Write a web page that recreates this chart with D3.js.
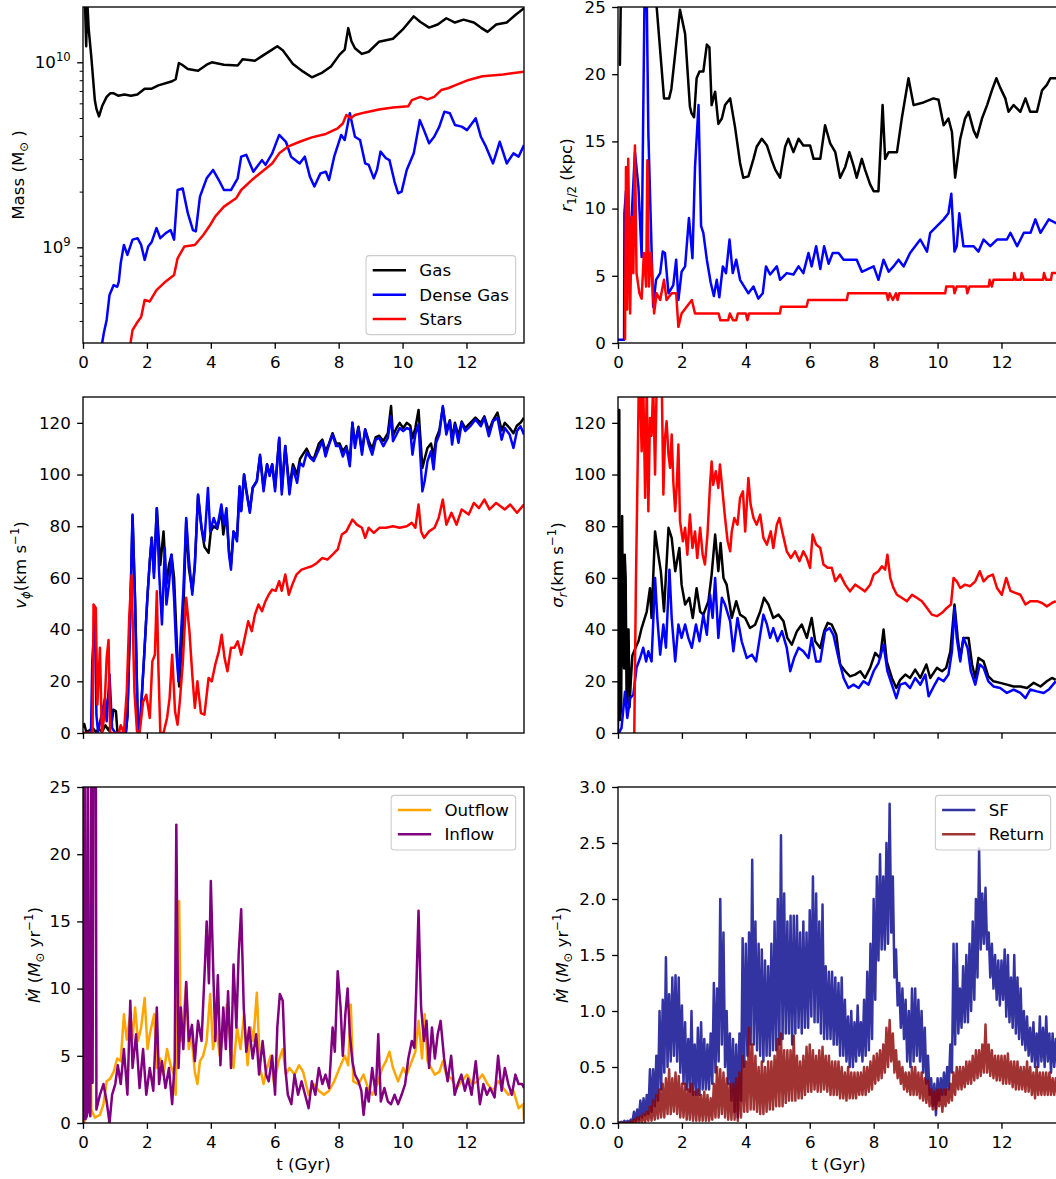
<!DOCTYPE html>
<html><head><meta charset="utf-8">
<script src="https://cdn.jsdelivr.net/npm/d3@7"></script>
<style>
body{margin:0;background:#fff}
svg{display:block;background:#fff}
text{font-family:"DejaVu Sans";fill:#000}
.tick text{font-size:16.67px;font-family:"DejaVu Sans";fill:#000}
.tick line{stroke:#000}
</style></head><body>
<svg id="c" width="1056" height="1179"></svg>
<script>
// ---------------- DATA ----------------
const xTicks = [0, 2, 4, 6, 8, 10, 12];
const massTicks = [1e9, 1e10];
const massMinorTicks = [4e8,5e8,6e8,7e8,8e8,9e8,2e9,3e9,4e9,5e9,6e9,7e9,8e9,9e9];
const rTicks = [0, 5, 10, 15, 20, 25];
const vTicks = [0, 20, 40, 60, 80, 100, 120];
const flowTicks = [0, 5, 10, 15, 20, 25];
const sfTicks = [0, 0.5, 1.0, 1.5, 2.0, 2.5, 3.0];

// Panel 1: mass [t (Gyr), M_sun]
const gasMass = [[0,3.0e10],[0.05,2.5e10],[0.1,1.22e10],[0.13,2.2e10],[0.18,1.5e10],[0.26,1.07e10],[0.37,6.25e9],[0.42,5.6e9],[0.5,5.1e9],[0.6,5.8e9],[0.74,6.5e9],[0.85,6.8e9],[0.96,6.8e9],[1.1,6.6e9],[1.3,6.7e9],[1.5,6.6e9],[1.7,6.7e9],[1.93,7.2e9],[2.15,7.2e9],[2.36,7.5e9],[2.79,7.9e9],[2.9,8.1e9],[3.0,9.9e9],[3.1,9.7e9],[3.28,9.2e9],[3.6,9.0e9],[3.87,9.7e9],[4.03,1.0e10],[4.41,9.7e9],[4.84,9.6e9],[5.0,1.04e10],[5.38,1.02e10],[5.6,1.08e10],[5.92,1.17e10],[6.08,1.22e10],[6.25,1.16e10],[6.57,9.8e9],[6.89,8.9e9],[7.16,8.3e9],[7.49,8.8e9],[7.76,9.5e9],[8.03,1.1e10],[8.19,1.17e10],[8.3,1.53e10],[8.4,1.3e10],[8.51,1.19e10],[8.73,1.11e10],[8.94,1.14e10],[9.26,1.29e10],[9.7,1.34e10],[10.0,1.5e10],[10.35,1.77e10],[10.56,1.65e10],[10.83,1.54e10],[11.1,1.6e10],[11.37,1.73e10],[11.64,1.64e10],[11.91,1.7e10],[12.23,1.64e10],[12.45,1.54e10],[12.66,1.46e10],[12.93,1.6e10],[13.26,1.64e10],[13.53,1.8e10],[13.8,1.96e10]];
const denseMass = [[0.58,2.9e8],[0.65,3.43e8],[0.74,4.05e8],[0.83,5.53e8],[0.96,6.25e8],[1.07,6.12e8],[1.12,6.52e8],[1.18,8.2e8],[1.28,1.03e9],[1.39,9.1e8],[1.55,1.1e9],[1.71,1.12e9],[1.82,1.03e9],[1.93,8.55e8],[2.04,1.01e9],[2.15,1.07e9],[2.3,1.27e9],[2.42,1.12e9],[2.58,1.19e9],[2.74,1.24e9],[2.85,1.1e9],[2.96,2.04e9],[3.12,2.08e9],[3.28,1.53e9],[3.44,1.24e9],[3.53,1.22e9],[3.66,1.88e9],[3.87,2.36e9],[4.07,2.62e9],[4.25,2.31e9],[4.41,2.04e9],[4.63,2.04e9],[4.84,2.36e9],[4.95,3.09e9],[5.11,3.16e9],[5.33,2.56e9],[5.6,2.96e9],[5.71,2.79e9],[5.92,3.22e9],[6.14,4.05e9],[6.35,3.72e9],[6.51,3.09e9],[6.78,2.84e9],[6.94,3.09e9],[7.1,2.41e9],[7.24,2.13e9],[7.43,2.51e9],[7.6,2.56e9],[7.7,2.31e9],[7.86,3.09e9],[8.08,4.05e9],[8.19,3.8e9],[8.35,5.3e9],[8.51,3.96e9],[8.67,3.8e9],[8.83,2.84e9],[8.94,2.79e9],[9.1,2.36e9],[9.2,2.62e9],[9.31,3.29e9],[9.48,3.03e9],[9.59,2.96e9],[9.75,2.26e9],[9.86,1.96e9],[9.97,2.0e9],[10.13,2.62e9],[10.35,3.22e9],[10.54,4.87e9],[10.67,4.3e9],[10.83,3.65e9],[10.99,3.96e9],[11.15,4.49e9],[11.31,5.41e9],[11.48,5.3e9],[11.64,4.58e9],[11.85,4.49e9],[12.02,4.3e9],[12.29,4.98e9],[12.45,3.96e9],[12.61,3.5e9],[12.83,2.84e9],[12.93,3.22e9],[13.04,3.72e9],[13.26,2.84e9],[13.47,3.22e9],[13.63,3.09e9],[13.8,3.57e9]];
const starMass = [[1.47,2.9e8],[1.55,3.57e8],[1.71,3.96e8],[1.82,4.2e8],[1.93,5.19e8],[2.09,5.1e8],[2.3,5.87e8],[2.58,6.52e8],[2.85,7.08e8],[2.96,8.72e8],[3.17,1.01e9],[3.5,1.03e9],[3.77,1.17e9],[3.98,1.32e9],[4.14,1.47e9],[4.41,1.66e9],[4.79,1.84e9],[4.95,2.04e9],[5.28,2.31e9],[5.6,2.56e9],[5.92,2.84e9],[6.14,3.22e9],[6.41,3.5e9],[6.78,3.72e9],[7.16,3.93e9],[7.6,4.1e9],[7.97,4.4e9],[8.13,4.67e9],[8.24,5.19e9],[8.38,4.98e9],[8.51,5.19e9],[8.83,5.36e9],[9.26,5.56e9],[9.7,5.7e9],[10.18,5.79e9],[10.29,6.25e9],[10.56,6.5e9],[10.78,6.3e9],[10.99,6.5e9],[11.21,7.08e9],[11.42,7.24e9],[11.64,7.5e9],[12.07,8.03e9],[12.5,8.4e9],[13.15,8.6e9],[13.8,8.9e9]];

// Panel 2: half-mass radius [t, kpc]
const gasR = [[0.03,20.7],[0.06,20.7],[0.09,26],[0.5,30],[1.0,30],[1.21,25],[1.44,18.2],[1.6,18.2],[1.67,18.9],[1.94,24.8],[2.1,23.0],[2.25,17.6],[2.3,17.1],[2.38,16.8],[2.46,19.7],[2.55,20.2],[2.67,20.2],[2.78,22.2],[2.86,22.0],[2.93,17.7],[3.04,18.7],[3.14,16.3],[3.25,16.7],[3.35,17.7],[3.51,18.2],[3.66,16.1],[3.82,13.4],[3.92,12.3],[4.08,12.4],[4.24,13.7],[4.34,14.6],[4.5,15.2],[4.66,14.7],[4.81,13.6],[4.92,12.9],[5.07,12.3],[5.23,14.6],[5.33,15.2],[5.49,14.2],[5.65,15.2],[5.8,14.7],[6.01,14.7],[6.12,13.7],[6.33,13.7],[6.48,16.2],[6.64,14.85],[6.8,14.2],[6.95,12.3],[7.11,13.1],[7.24,14.2],[7.37,13.2],[7.47,12.3],[7.63,13.7],[7.73,12.9],[7.89,11.8],[8.0,11.3],[8.15,11.3],[8.28,17.7],[8.36,13.7],[8.47,14.2],[8.73,14.2],[8.88,16.7],[9.09,19.7],[9.25,17.7],[9.56,17.9],[9.87,18.2],[10.03,18.1],[10.19,16.2],[10.34,16.7],[10.45,15.7],[10.55,12.3],[10.71,15.2],[10.86,16.7],[10.97,17.2],[11.13,15.8],[11.23,15.3],[11.39,16.7],[11.55,17.7],[11.7,18.8],[11.84,19.7],[11.96,19.0],[12.12,18.2],[12.22,17.2],[12.38,17.7],[12.59,17.2],[12.75,18.2],[12.9,17.2],[13.11,17.2],[13.27,18.8],[13.42,19.2],[13.53,19.7],[13.8,19.7]];
const denseR = [[0,0.25],[0.19,0.25],[0.2,9.65],[0.25,11.3],[0.29,5.2],[0.35,8.2],[0.43,9.5],[0.53,14.2],[0.64,11.6],[0.74,6.4],[0.85,30],[0.88,30],[0.92,21.5],[0.95,15.6],[1.03,8.7],[1.1,2.7],[1.19,4.7],[1.32,5.2],[1.4,6.8],[1.47,6.7],[1.58,3.7],[1.73,4.3],[1.82,6.2],[1.89,3.2],[1.99,5.3],[2.1,5.7],[2.22,9.3],[2.33,6.3],[2.41,13.1],[2.52,17.7],[2.6,8.7],[2.67,8.2],[2.78,6.2],[2.9,4.5],[3.0,3.5],[3.09,4.7],[3.17,3.4],[3.28,5.7],[3.38,5.2],[3.49,7.7],[3.59,5.2],[3.7,6.2],[3.82,4.7],[3.95,4.2],[4.08,3.7],[4.24,4.2],[4.39,3.3],[4.53,3.7],[4.63,5.7],[4.76,5.1],[4.97,5.7],[5.07,4.7],[5.28,5.2],[5.49,5.1],[5.65,5.7],[5.8,5.2],[5.96,6.7],[6.06,5.7],[6.2,7.2],[6.33,5.5],[6.45,7.2],[6.59,5.9],[6.72,6.7],[6.9,6.7],[7.06,6.2],[7.27,6.2],[7.47,6.2],[7.63,5.3],[8.0,5.7],[8.15,4.7],[8.31,6.2],[8.47,5.3],[8.62,5.7],[8.78,6.2],[8.94,5.7],[9.14,6.7],[9.3,7.2],[9.46,7.7],[9.67,6.8],[9.77,8.2],[9.98,8.7],[10.19,9.2],[10.34,9.65],[10.43,11.1],[10.53,6.8],[10.6,7.2],[10.68,9.65],[10.81,7.2],[11.13,7.2],[11.28,6.8],[11.44,7.7],[11.65,7.2],[11.86,7.7],[12.17,7.7],[12.28,8.2],[12.49,7.2],[12.7,8.2],[12.91,8.2],[13.06,9.2],[13.22,8.2],[13.48,9.2],[13.8,8.8]];
const starR = [[0.22,0.25],[0.25,13.1],[0.29,2.5],[0.32,13.7],[0.38,2.2],[0.43,9.4],[0.48,5.2],[0.53,14.7],[0.58,5.2],[0.67,3.7],[0.74,3.3],[0.81,6.7],[0.88,4.2],[0.92,13.6],[0.97,4.2],[1.03,6.7],[1.13,2.2],[1.21,3.7],[1.32,3.2],[1.44,4.7],[1.52,3.2],[1.68,3.7],[1.82,3.7],[1.89,1.2],[1.99,2.2],[2.15,2.7],[2.31,3.2],[2.41,2.2],[3.15,2.2],[3.2,1.7],[3.45,1.7],[3.5,2.2],[3.6,1.7],[3.7,1.7],[3.75,2.2],[4.0,2.2],[4.05,1.7],[4.1,2.2],[5.07,2.2],[5.1,2.7],[5.9,2.7],[5.95,3.2],[7.16,3.2],[7.2,3.7],[8.4,3.7],[8.45,3.2],[8.5,3.7],[8.6,3.2],[8.7,3.7],[8.75,3.2],[8.8,3.7],[10.24,3.7],[10.27,4.2],[10.5,4.2],[10.53,3.7],[10.6,4.2],[10.9,4.2],[10.93,3.7],[11.0,4.2],[11.6,4.2],[11.63,4.7],[11.7,4.2],[11.75,4.7],[12.38,4.7],[12.4,5.2],[12.45,4.7],[12.6,4.7],[12.63,5.2],[12.7,4.7],[13.3,4.7],[13.33,5.2],[13.4,4.7],[13.55,4.7],[13.58,5.2],[13.8,5.2]];

// Panel 3: rotation velocity [t, km/s]
const gasV = [[0,2],[0.04,3.5],[0.1,0.5],[0.2,1],[0.3,2],[0.4,0.5],[0.5,1.5],[0.6,0.5],[0.7,3],[0.8,1],[0.9,4],[0.95,9],[1.03,8.5],[1.08,0],[1.34,0],[1.39,6.5],[1.48,47],[1.55,84],[1.63,51],[1.72,0.5],[1.8,5.8],[1.91,29],[2.02,53.5],[2.09,66.5],[2.15,75.5],[2.22,62],[2.31,87],[2.42,65],[2.52,78],[2.61,57.4],[2.69,65],[2.77,69],[2.85,60],[2.96,27.7],[3.01,18],[3.12,40],[3.23,82],[3.31,63.9],[3.42,55],[3.5,65],[3.6,92],[3.71,79],[3.8,72],[3.93,69.7],[4.0,78],[4.09,80],[4.2,79],[4.33,86],[4.39,76.8],[4.49,85],[4.57,70],[4.63,65],[4.71,78],[4.82,76],[4.9,95],[4.95,86],[5.04,100],[5.11,94],[5.22,86],[5.31,95],[5.44,97.5],[5.54,107],[5.65,95],[5.76,104],[5.84,100],[5.92,104],[6.01,95],[6.14,114],[6.22,94],[6.33,111],[6.46,95],[6.57,104],[6.7,100],[6.79,106],[6.89,108],[7.0,110],[7.11,107],[7.22,106],[7.38,112],[7.49,113.5],[7.59,109],[7.7,112],[7.81,116],[7.92,112],[8.03,112],[8.13,109],[8.24,111],[8.35,105],[8.43,120],[8.51,112],[8.62,118.5],[8.73,109],[8.83,117.5],[8.94,113],[9.05,110],[9.16,114.5],[9.27,115],[9.4,113],[9.54,116],[9.64,126.5],[9.7,115],[9.81,118],[9.91,120],[10.02,118],[10.13,120],[10.24,119],[10.31,114],[10.4,118],[10.5,125],[10.62,102.6],[10.69,106],[10.78,110.3],[10.89,112],[10.97,107],[11.05,114],[11.15,117],[11.26,126],[11.37,117],[11.48,121],[11.55,114],[11.64,120],[11.75,115],[11.85,120.5],[11.96,118],[12.12,120],[12.28,122],[12.45,120],[12.56,122.5],[12.7,117],[12.83,121],[12.97,124],[13.1,117],[13.2,120],[13.35,118],[13.47,116],[13.58,119],[13.69,120],[13.8,122]];
const denseV = [[0,0],[0.25,0],[0.29,27.7],[0.37,45],[0.42,7],[0.47,0.5],[0.58,7],[0.69,13.5],[0.74,4.5],[0.83,22.6],[0.91,2],[1.01,0],[1.34,0],[1.39,6.5],[1.48,47],[1.55,84.5],[1.63,51],[1.72,0],[1.8,5.8],[1.91,29],[2.02,53.5],[2.09,66.5],[2.15,75.5],[2.22,60],[2.31,87],[2.38,62.6],[2.47,42],[2.56,71.6],[2.61,49.7],[2.69,57.4],[2.77,69],[2.85,52],[2.92,31.6],[2.99,20],[3.06,36.8],[3.14,54.8],[3.23,83.2],[3.31,67.7],[3.42,53.5],[3.5,65],[3.6,92.3],[3.71,79.4],[3.8,74.2],[3.91,94.8],[3.98,78],[4.09,83.2],[4.2,79.4],[4.33,88.4],[4.41,80.6],[4.49,87],[4.57,69],[4.63,63.2],[4.71,78],[4.82,74.2],[4.9,95.5],[4.95,85.8],[5.04,100],[5.11,93.5],[5.22,85.2],[5.31,94.8],[5.44,97.4],[5.54,107.7],[5.65,93.5],[5.76,103.9],[5.84,99.4],[5.92,103.9],[6.01,93.5],[6.14,114.2],[6.22,92.3],[6.33,111],[6.46,92.3],[6.57,102.6],[6.7,96.8],[6.79,104.5],[6.89,103.2],[7.0,108.4],[7.11,106.5],[7.22,105.2],[7.38,109.7],[7.49,112.9],[7.59,107],[7.7,111.6],[7.81,115.5],[7.92,111],[8.03,111],[8.13,107],[8.24,110.3],[8.35,103.2],[8.43,120],[8.51,110.3],[8.62,118],[8.73,107.7],[8.83,117.4],[8.94,111.6],[9.05,107.7],[9.16,113.5],[9.27,114.2],[9.4,111],[9.54,114.2],[9.64,122.6],[9.7,112.9],[9.81,115.5],[9.91,118],[10.02,116.8],[10.13,118],[10.24,117.4],[10.31,107.7],[10.4,115.5],[10.5,119.4],[10.62,93.5],[10.69,97.4],[10.78,105.2],[10.89,109],[10.97,102],[11.05,112.3],[11.15,115.5],[11.26,126.5],[11.37,115.5],[11.48,120.6],[11.55,111.6],[11.64,119.4],[11.75,112.3],[11.85,120],[11.96,116.8],[12.12,118.7],[12.28,121.3],[12.45,118.7],[12.56,122],[12.7,114.8],[12.83,120.6],[12.97,122],[13.1,113.5],[13.2,118],[13.35,115.5],[13.47,110.3],[13.58,116.8],[13.69,118.7],[13.8,115.5]];
const starV = [[0,0],[0.3,0],[0.33,49.7],[0.4,48.4],[0.45,11],[0.53,33],[0.59,0],[0.66,5.8],[0.74,29],[0.8,36],[0.85,0],[1.12,0],[1.18,3],[1.28,0],[1.37,16],[1.45,45.8],[1.52,61],[1.61,16],[1.69,0.6],[1.77,0],[1.88,12],[1.98,14.8],[2.09,5.8],[2.17,27.7],[2.25,30.3],[2.31,54.8],[2.36,25.2],[2.42,0],[2.52,0],[2.63,5.8],[2.71,13.5],[2.79,30.3],[2.88,8.4],[2.96,3.2],[3.03,12.3],[3.12,26.5],[3.23,52.3],[3.33,39.4],[3.42,22.6],[3.5,9.7],[3.58,20],[3.69,7.7],[3.8,7.1],[3.93,21.3],[4.03,20],[4.14,26.5],[4.25,31.6],[4.34,38],[4.43,29],[4.52,23.9],[4.63,33],[4.74,33],[4.84,35.5],[4.95,30.3],[5.06,36.8],[5.17,43.2],[5.28,39.4],[5.38,45.8],[5.49,49.7],[5.6,47.1],[5.71,51],[5.81,53.5],[5.92,55.5],[6.03,55],[6.14,58.7],[6.22,55],[6.33,61.3],[6.44,53.5],[6.55,57.4],[6.68,61.3],[6.84,63.2],[7.0,63.9],[7.16,64.5],[7.32,65.8],[7.49,67.7],[7.65,67.1],[7.81,69],[7.97,71],[8.1,76.8],[8.24,78],[8.35,80.6],[8.43,82.6],[8.57,80.6],[8.73,79.4],[8.83,75.5],[8.94,79.4],[9.1,77.4],[9.27,79.4],[9.48,79.4],[9.7,80],[9.91,79.4],[10.13,80],[10.29,81.3],[10.4,79.4],[10.5,88.4],[10.58,78],[10.67,75.5],[10.83,78],[11.0,79.4],[11.13,83.2],[11.26,90.3],[11.37,80.6],[11.53,85.2],[11.69,80.6],[11.85,86.5],[12.07,84.5],[12.23,89],[12.39,87],[12.56,90.3],[12.72,86.5],[12.93,89],[13.2,86.5],[13.37,88.4],[13.58,85.2],[13.8,88.4]];

// Panel 4: radial velocity dispersion [t, km/s]
const gasSig = [[0,0],[0.02,125],[0.04,125],[0.06,5],[0.1,10],[0.13,84],[0.16,30],[0.19,25],[0.21,69],[0.24,60],[0.27,11],[0.3,40],[0.33,40],[0.36,10],[0.4,20],[0.45,30],[0.55,33],[0.64,35.5],[0.74,40.6],[0.9,47],[1.0,56],[1.05,44.5],[1.16,78],[1.26,69],[1.34,62.6],[1.44,47],[1.58,79.4],[1.68,75.5],[1.79,62.6],[1.92,71.6],[1.99,57.4],[2.1,49.7],[2.23,52.3],[2.34,44.5],[2.46,56],[2.57,47],[2.67,45.8],[2.83,51],[2.93,61.3],[3.04,76.8],[3.14,62.6],[3.21,73.5],[3.3,60],[3.4,57.4],[3.56,44.5],[3.7,51],[3.82,45.8],[3.98,44.5],[4.13,40.6],[4.29,41.9],[4.45,47],[4.57,52.3],[4.71,49.7],[4.86,44.5],[5.02,45.8],[5.18,43.2],[5.3,36.8],[5.44,34.2],[5.6,39.4],[5.75,42],[5.91,36.8],[6.06,44.5],[6.17,35.5],[6.33,32.9],[6.45,39.4],[6.56,42.6],[6.69,41.9],[6.83,38],[6.95,26.5],[7.11,23.9],[7.26,21.9],[7.42,22.6],[7.58,23.9],[7.73,21.3],[7.89,25.2],[8.05,31],[8.2,29],[8.31,40],[8.41,27.7],[8.57,21.3],[8.71,17.4],[8.83,20.6],[8.99,22.6],[9.14,21.3],[9.3,24.5],[9.46,21.3],[9.65,26.5],[9.77,21.3],[9.98,25.2],[10.14,23.9],[10.27,25.2],[10.4,31.6],[10.53,49.7],[10.63,36.8],[10.71,29],[10.81,36.8],[10.97,36.8],[11.08,26.5],[11.18,21.3],[11.28,29],[11.44,27.7],[11.59,21.9],[11.75,20],[11.96,19.4],[12.17,18.7],[12.38,18],[12.59,18],[12.8,17.4],[13.01,19.4],[13.22,18],[13.42,20],[13.58,21.3],[13.7,20.6]];
const denseSig = [[0.03,0],[0.11,2],[0.22,16],[0.29,5.8],[0.38,13.5],[0.48,14.8],[0.58,25.2],[0.69,29],[0.79,33],[0.88,27.7],[0.95,31.6],[1.05,27.7],[1.16,60],[1.23,44.5],[1.32,30.3],[1.42,42],[1.5,33],[1.61,63.2],[1.68,44.5],[1.79,27.7],[1.89,42],[1.99,36.8],[2.1,42],[2.2,36.8],[2.31,33],[2.44,42],[2.55,35.5],[2.67,45.8],[2.78,38],[2.88,53.5],[2.96,44.5],[3.04,60],[3.14,36.8],[3.25,52.3],[3.35,49.7],[3.51,43.2],[3.61,31.6],[3.74,44.5],[3.87,35.5],[4.03,29],[4.19,30.3],[4.32,27.7],[4.45,38],[4.55,45.8],[4.66,42],[4.76,36.8],[4.86,40.6],[4.99,35.5],[5.13,39.4],[5.28,33],[5.39,23.9],[5.51,29],[5.65,33],[5.8,31.6],[5.96,29],[6.06,36.8],[6.2,27.7],[6.33,27.7],[6.48,39.4],[6.62,40.6],[6.74,38],[6.9,29],[7.06,21.3],[7.21,17.4],[7.37,18.7],[7.53,17.4],[7.68,20],[7.84,18.7],[8.0,23.9],[8.15,27],[8.31,34.2],[8.43,23.9],[8.57,18.7],[8.71,13.5],[8.83,18.7],[8.99,19.4],[9.14,17.4],[9.3,21.3],[9.46,18.7],[9.62,22.6],[9.72,14.2],[9.88,18],[10.03,21.3],[10.19,20],[10.34,22.6],[10.45,31.6],[10.53,48.4],[10.6,36.8],[10.71,27.7],[10.81,36.8],[10.94,32.9],[11.04,23.9],[11.18,18.7],[11.32,26.5],[11.44,25.2],[11.59,20],[11.75,18],[11.96,17.4],[12.17,15.5],[12.38,16.8],[12.59,15.5],[12.75,13.5],[12.9,16.8],[13.11,16.1],[13.32,15.5],[13.48,16.8],[13.7,20]];
const starSig = [[0.5,0],[0.51,0],[0.56,57.4],[0.61,98.7],[0.65,135],[0.69,135],[0.74,109],[0.79,135],[0.85,91],[0.9,135],[0.95,85.8],[1.0,121.9],[1.05,115],[1.1,135],[1.16,100],[1.21,135],[1.26,132],[1.32,135],[1.37,135],[1.42,92.3],[1.47,114],[1.52,120.6],[1.58,107.7],[1.63,102.6],[1.68,115.5],[1.73,97.4],[1.79,85.8],[1.84,96],[1.89,111.6],[1.94,82],[2.03,74.2],[2.1,79.4],[2.17,69],[2.25,84.5],[2.33,71.6],[2.41,78],[2.48,67.7],[2.57,79.4],[2.65,69],[2.72,65.2],[2.8,76.8],[2.88,96],[2.93,105],[2.98,96],[3.06,101.3],[3.14,94.8],[3.19,103.9],[3.28,92.3],[3.35,83.2],[3.43,74.2],[3.51,70.3],[3.56,78],[3.64,83.2],[3.74,80.6],[3.82,91],[3.91,93.5],[3.98,78],[4.08,98.7],[4.15,88.4],[4.24,83.2],[4.34,80.6],[4.45,84.5],[4.55,75.5],[4.66,72.9],[4.78,78],[4.86,71.6],[4.97,80.6],[5.05,83.2],[5.15,77.4],[5.28,70.3],[5.41,67.7],[5.54,70.3],[5.68,66.5],[5.8,70.3],[5.91,67.7],[6.01,63.9],[6.09,76.8],[6.2,72.9],[6.33,71.6],[6.43,65.2],[6.56,63.9],[6.69,63.9],[6.8,58.7],[6.95,61.3],[7.11,57.4],[7.26,54.8],[7.42,57.4],[7.58,56.1],[7.73,54.8],[7.89,57.4],[8.0,61.3],[8.15,62.6],[8.26,64.5],[8.36,63.2],[8.43,69],[8.52,60],[8.62,56.1],[8.73,53.5],[8.88,52.3],[9.04,51],[9.2,53.5],[9.35,52.3],[9.51,51],[9.67,48.4],[9.82,45.8],[9.98,45.2],[10.14,46.5],[10.29,48.4],[10.42,49.7],[10.5,60],[10.6,58.7],[10.71,56.1],[10.86,57.4],[11.02,56.8],[11.18,58.7],[11.32,62.6],[11.44,58.7],[11.59,60.6],[11.73,61.3],[11.86,56.1],[12.01,53.5],[12.15,60],[12.28,55],[12.43,54.2],[12.59,53.5],[12.75,49.7],[12.9,51],[13.11,51],[13.27,50.3],[13.42,49],[13.58,50.3],[13.7,51]];

// Panel 5: outflow / inflow rates [t, Msun/yr]
const outflow = [[0,0],[0.02,30],[0.04,0],[0.15,1.1],[0.18,8.6],[0.21,1],[0.23,11.8],[0.26,1],[0.37,0.4],[0.53,0.6],[0.64,1.4],[0.74,3.1],[0.85,3.3],[0.96,3.8],[1.07,4.8],[1.18,4.6],[1.28,8.1],[1.37,6.2],[1.48,8.1],[1.55,6.3],[1.63,8.6],[1.72,6.1],[1.82,7.1],[1.93,9.3],[2.02,5.5],[2.09,6.6],[2.23,8.1],[2.31,4.1],[2.42,4.8],[2.52,3.6],[2.63,5.5],[2.74,4.3],[2.85,3.6],[2.9,2.1],[2.96,10.0],[3.01,16.5],[3.06,6.1],[3.15,8.1],[3.23,10.4],[3.31,5.5],[3.39,6.6],[3.5,3.8],[3.58,2.9],[3.66,4.6],[3.76,5.0],[3.87,6.1],[3.98,9.6],[4.07,5.5],[4.17,7.1],[4.28,5.0],[4.39,6.6],[4.5,8.8],[4.61,6.1],[4.71,4.1],[4.82,7.1],[4.93,5.5],[5.04,8.1],[5.15,4.3],[5.25,7.1],[5.33,6.1],[5.44,9.7],[5.54,4.1],[5.65,2.9],[5.76,4.1],[5.87,5.0],[5.98,2.9],[6.12,4.6],[6.25,5.5],[6.35,3.6],[6.46,4.1],[6.62,3.6],[6.76,4.3],[6.89,3.8],[7.06,2.1],[7.22,2.9],[7.38,2.4],[7.54,2.1],[7.7,2.4],[7.86,3.1],[8.03,4.1],[8.19,5.0],[8.3,4.3],[8.38,8.8],[8.46,3.1],[8.62,2.9],[8.78,3.6],[8.92,2.6],[9.05,2.1],[9.21,2.9],[9.37,4.1],[9.48,4.6],[9.59,5.3],[9.7,4.1],[9.86,3.1],[10.02,4.1],[10.13,3.6],[10.29,4.6],[10.4,5.3],[10.5,7.6],[10.61,4.8],[10.69,8.1],[10.78,4.6],[10.89,4.1],[11.01,3.6],[11.15,3.8],[11.26,4.6],[11.37,3.6],[11.53,3.3],[11.69,2.6],[11.85,3.1],[12.02,3.6],[12.18,2.9],[12.34,3.1],[12.5,3.6],[12.66,2.9],[12.83,2.4],[12.99,3.1],[13.15,2.6],[13.31,2.1],[13.47,2.4],[13.63,1.1],[13.78,1.4],[13.8,0.2]];
const inflow = [[0,0],[0.02,0.5],[0.05,30],[0.08,0.3],[0.12,0.5],[0.15,30],[0.18,1],[0.23,0.5],[0.26,30],[0.3,3],[0.33,30],[0.4,30],[0.42,1],[0.53,2.1],[0.64,2.9],[0.74,1.6],[0.83,0],[0.91,2.1],[1.01,2.9],[1.09,4.3],[1.18,2.9],[1.28,5.5],[1.39,2.1],[1.48,9.1],[1.55,4.1],[1.66,6.6],[1.77,2.6],[1.88,5.5],[1.98,2.1],[2.09,4.1],[2.2,2.4],[2.31,8.6],[2.38,2.9],[2.47,4.6],[2.58,2.6],[2.69,4.1],[2.79,1.4],[2.87,4.6],[2.92,22.2],[2.99,4.1],[3.06,8.6],[3.14,5.5],[3.23,10.5],[3.31,6.1],[3.41,7.3],[3.5,4.6],[3.6,7.6],[3.71,6.1],[3.82,12.0],[3.87,15.0],[3.94,10.4],[4.0,18.0],[4.07,11.8],[4.14,6.1],[4.22,11.0],[4.3,4.3],[4.39,8.6],[4.47,5.5],[4.54,9.8],[4.63,4.1],[4.71,11.8],[4.8,7.1],[4.87,12.5],[4.95,15.9],[5.03,8.6],[5.11,5.3],[5.2,7.1],[5.31,4.8],[5.42,6.6],[5.51,3.6],[5.62,6.1],[5.73,3.6],[5.81,3.1],[5.92,5.0],[6.01,2.1],[6.08,7.1],[6.16,9.6],[6.25,9.1],[6.33,4.1],[6.41,2.1],[6.52,1.4],[6.62,3.6],[6.73,2.1],[6.84,3.1],[6.95,2.1],[7.06,1.1],[7.16,3.1],[7.27,2.1],[7.38,4.1],[7.49,2.9],[7.59,3.6],[7.7,2.6],[7.81,7.1],[7.88,5.3],[7.97,11.3],[8.06,8.6],[8.13,5.0],[8.21,8.1],[8.28,10.0],[8.35,6.6],[8.43,4.6],[8.51,3.6],[8.62,3.1],[8.71,2.4],[8.78,0.6],[8.87,2.6],[8.94,1.6],[9.05,4.1],[9.16,2.1],[9.24,6.6],[9.32,1.6],[9.43,2.6],[9.54,1.6],[9.64,1.4],[9.75,2.1],[9.86,1.4],[9.97,2.1],[10.08,2.9],[10.18,4.8],[10.29,6.1],[10.37,5.6],[10.43,10.0],[10.5,15.8],[10.58,8.6],[10.67,6.1],[10.75,7.6],[10.83,4.1],[10.92,7.1],[11.01,4.8],[11.1,6.6],[11.19,7.6],[11.3,4.8],[11.41,3.1],[11.52,5.0],[11.63,2.1],[11.73,2.9],[11.84,3.6],[11.95,2.4],[12.05,3.3],[12.16,2.1],[12.29,4.6],[12.42,1.4],[12.53,2.9],[12.64,2.1],[12.74,2.6],[12.88,1.9],[12.99,5.0],[13.1,2.4],[13.2,4.1],[13.31,2.9],[13.42,2.1],[13.53,3.6],[13.63,2.9],[13.74,2.9],[13.8,2.6]];

// Panel 6: SF and return rates, sampled every 0.1 Gyr as local spike tops and the dips between them
const sfPeak = [0.01,0.01,0.02,0.02,0.03,0.1,0.12,0.2,0.22,0.25,0.48,0.48,0.6,1.0,1.1,1.48,1.15,1.3,1.32,1.3,1.05,0.9,0.75,1.0,0.7,0.85,0.9,0.75,0.7,0.8,1.25,1.2,2.0,1.7,1.0,0.8,0.75,0.7,0.8,1.65,1.6,1.7,2.35,1.8,1.6,1.55,1.45,1.4,1.6,1.8,2.0,2.57,2.05,1.8,1.85,1.85,1.85,1.7,1.8,1.7,1.9,2.2,2.05,1.8,1.95,1.4,1.35,1.35,1.3,1.25,1.3,1.1,0.95,1.0,0.9,1.05,0.9,1.1,1.35,1.6,2.0,2.2,2.4,2.2,2.5,2.85,2.2,1.55,1.25,1.2,1.1,1.0,1.2,1.2,1.1,1.0,0.85,0.6,0.4,0.35,0.4,0.4,0.45,0.5,0.7,1.6,1.6,1.2,1.4,1.5,1.6,1.8,2.0,2.45,2.05,2.1,1.7,1.6,1.5,1.45,1.45,1.55,1.5,1.3,1.5,1.3,1.2,1.0,0.95,0.85,0.9,0.8,0.95,0.85,0.95,0.8,0.8,0.75,0.75];
const sfTrough = [0,0,0,0,0.01,0.02,0.03,0.05,0.07,0.08,0.1,0.15,0.2,0.3,0.45,0.5,0.55,0.6,0.55,0.45,0.35,0.3,0.28,0.25,0.25,0.25,0.3,0.3,0.3,0.35,0.45,0.55,0.7,0.5,0.35,0.2,0.1,0.05,0.2,0.5,0.6,0.7,0.7,0.65,0.6,0.55,0.6,0.6,0.65,0.65,0.7,0.75,0.8,0.8,0.7,0.8,0.85,0.8,0.85,0.85,0.95,0.9,0.9,0.8,0.75,0.75,0.75,0.7,0.7,0.6,0.6,0.55,0.5,0.5,0.55,0.6,0.55,0.6,0.65,0.75,1.1,1.45,1.55,1.55,1.6,1.7,1.3,1.05,0.85,0.75,0.55,0.5,0.55,0.6,0.55,0.45,0.35,0.25,0.15,0.07,0.2,0.25,0.25,0.3,0.45,0.7,0.8,0.85,0.9,0.9,1.0,1.1,1.3,1.55,1.6,1.55,1.3,1.2,1.1,1.05,1.1,0.95,0.9,0.85,0.8,0.75,0.7,0.65,0.6,0.55,0.5,0.5,0.55,0.5,0.55,0.45,0.5,0.5,0.55];
const retPeak = [0,0,0,0,0.01,0.03,0.05,0.06,0.08,0.1,0.15,0.2,0.25,0.3,0.35,0.4,0.48,0.4,0.45,0.42,0.35,0.35,0.3,0.35,0.28,0.3,0.25,0.28,0.25,0.22,0.35,0.5,0.48,0.45,0.4,0.35,0.35,0.4,0.45,0.6,0.55,0.85,0.7,0.6,0.5,0.55,0.5,0.55,0.55,0.6,0.75,0.8,0.65,0.65,0.65,0.78,0.6,0.55,0.6,0.68,0.7,0.65,0.6,0.65,0.68,0.6,0.6,0.55,0.55,0.55,0.5,0.45,0.5,0.45,0.45,0.45,0.45,0.5,0.5,0.55,0.6,0.62,0.65,0.7,0.85,0.92,0.8,0.65,0.55,0.5,0.45,0.45,0.5,0.5,0.45,0.45,0.4,0.38,0.3,0.28,0.3,0.3,0.3,0.3,0.35,0.45,0.5,0.5,0.5,0.55,0.55,0.6,0.65,0.65,0.7,0.88,0.7,0.65,0.6,0.6,0.6,0.6,0.62,0.55,0.55,0.55,0.5,0.5,0.55,0.5,0.45,0.5,0.45,0.45,0.45,0.45,0.4,0.4,0.4];
const retTrough = [0,0,0,0,0,0,0,0.01,0.01,0.02,0.02,0.03,0.04,0.05,0.05,0.08,0.08,0.1,0.08,0.05,0.05,0.03,0.03,0.02,0.02,0.02,0.02,0.02,0.02,0.03,0.05,0.05,0.08,0.05,0.03,0.03,0.03,0.02,0.05,0.1,0.1,0.12,0.12,0.1,0.08,0.08,0.1,0.12,0.12,0.15,0.15,0.15,0.18,0.2,0.2,0.2,0.22,0.22,0.25,0.28,0.28,0.3,0.28,0.28,0.3,0.28,0.25,0.25,0.25,0.22,0.22,0.2,0.22,0.22,0.22,0.25,0.25,0.25,0.28,0.3,0.35,0.38,0.4,0.45,0.5,0.55,0.45,0.4,0.35,0.3,0.28,0.25,0.25,0.25,0.22,0.2,0.18,0.15,0.12,0.12,0.15,0.1,0.15,0.18,0.2,0.25,0.3,0.3,0.32,0.35,0.35,0.38,0.4,0.42,0.45,0.45,0.42,0.4,0.38,0.38,0.35,0.35,0.35,0.32,0.3,0.3,0.3,0.28,0.28,0.25,0.22,0.25,0.25,0.25,0.25,0.25,0.25,0.25,0.25];
const rateSampleTimes = d3.range(sfPeak.length).map(i => +(i * 0.1).toFixed(2));
const dipOffset = 0.05;
function spikes(peaks, dips){
  const out = [];
  rateSampleTimes.forEach((t, i) => { out.push([t, peaks[i]]); out.push([t + dipOffset, dips[i]]); });
  return out;
}

// ---------------- LAYOUT ----------------
const TMAX = 13.8, AX_W = 441, AX_H = 336;
const COL_X = [83, 618], ROW_Y = [7, 397, 787];
const FS = 16.67, LW = 2.5;
const svg = d3.select('#c');

function rich(sel, parts){
  let shift = 0;
  parts.forEach(p => {
    const target = p.sub ? 0.22*FS : p.sup ? -0.42*FS : 0;
    const ts = sel.append('tspan').text(p.t);
    if (target - shift !== 0) ts.attr('dy', (target - shift).toFixed(2));
    shift = target;
    if (p.sub || p.sup) ts.attr('font-size', (FS*0.7).toFixed(2));
    if (p.it) ts.attr('font-style', 'italic');
  });
}

function panel(col, row, cfg){
  const ox = COL_X[col], oy = ROW_Y[row];
  const g = svg.append('g').attr('transform', `translate(${ox},${oy})`);
  const x = d3.scaleLinear().domain([0, TMAX]).range([0, AX_W]);
  const y = (cfg.log ? d3.scaleLog() : d3.scaleLinear()).domain(cfg.yDomain).range([AX_H, 0]);
  const id = `clip-${col}-${row}`;
  g.append('clipPath').attr('id', id).append('rect').attr('width', AX_W).attr('height', AX_H);
  const plot = g.append('g').attr('clip-path', `url(#${id})`);
  const line = d3.line().x(d => x(d[0])).y(d => y(d[1]));
  cfg.series.forEach(s => {
    plot.append('path').datum(s.data).attr('fill', 'none').attr('stroke', s.color)
      .attr('stroke-opacity', s.alpha || 1).attr('stroke-width', LW)
      .attr('stroke-linejoin', 'round').attr('d', line);
  });
  // x axis
  const xa = g.append('g').attr('transform', `translate(0,${AX_H})`)
    .call(d3.axisBottom(x).tickValues(xTicks).tickSize(5.83).tickPadding(7.4)
      .tickFormat(cfg.xLabels ? d3.format('d') : () => ''));
  // y axis
  const ya = g.append('g').call(d3.axisLeft(y).tickValues(cfg.yTicks).tickSize(5.83).tickPadding(6.4)
      .tickFormat(cfg.yFormat || (d => d)));
  if (cfg.minor) {
    g.append('g').call(d3.axisLeft(y).tickValues(cfg.minor).tickSize(3.33).tickFormat(() => ''))
      .call(a => { a.select('.domain').remove(); a.selectAll('.tick line').attr('stroke-width', 1); a.attr('font-size', null).attr('font-family', null); });
  }
  [xa, ya].forEach(a => { a.select('.domain').remove(); a.attr('font-size', null).attr('font-family', null);
    a.selectAll('.tick line').attr('stroke-width', 1.33); });
  if (cfg.log) {
    ya.selectAll('.tick text').each(function(d){
      const t = d3.select(this).text(null);
      t.append('tspan').text('10');
      t.append('tspan').attr('dy', -0.42*FS).attr('font-size', FS*0.7).text(Math.round(Math.log10(d)));
    });
  }
  // spines
  g.append('rect').attr('width', AX_W).attr('height', AX_H).attr('fill', 'none')
    .attr('stroke', '#000').attr('stroke-width', 1.33);
  // y label
  const yl = svg.append('text').attr('font-size', FS).attr('text-anchor', 'middle')
    .attr('transform', `translate(${cfg.ylabelX},${oy + AX_H/2}) rotate(-90)`);
  rich(yl, cfg.ylabel);
  if (cfg.xLabels && row === 2) {
    svg.append('text').attr('font-size', FS).attr('text-anchor', 'middle')
      .attr('x', ox + AX_W/2).attr('y', 1170).text('t (Gyr)');
  }
  if (cfg.legend) legend(g, cfg.legend.items, cfg.legend.loc);
}

function legend(g, items, loc){
  const pad = 8.33, rowH = 24.3, firstRow = 14.7, lastPad = 15.7;
  const h = firstRow + (items.length - 1) * rowH + lastPad;
  const lg = g.append('g');
  const box = lg.append('rect');
  const texts = items.map((it, i) => lg.append('text').attr('font-size', FS).text(it.label));
  const tw = d3.max(texts, t => t.node().getComputedTextLength());
  const w = 6.7 + 33.3 + 13.3 + tw + 6.7;
  const left = AX_W - pad - w;
  const top = loc === 'lower right' ? AX_H - pad - h : pad;
  box.attr('x', left).attr('y', top).attr('width', w).attr('height', h).attr('rx', 3.3)
    .attr('fill', '#fff').attr('fill-opacity', 0.8).attr('stroke', '#cccccc').attr('stroke-width', 1.1);
  items.forEach((it, i) => {
    const cy = top + firstRow + i * rowH;
    lg.append('line').attr('x1', left + 6.7).attr('x2', left + 40).attr('y1', cy).attr('y2', cy)
      .attr('stroke', it.color).attr('stroke-opacity', it.alpha || 1).attr('stroke-width', LW);
    texts[i].attr('x', left + 53.3).attr('y', cy + 6);
  });
}

const BLACK = '#000000', BLUE = '#0000ff', RED = '#ff0000';
const ORANGE = '#ffa500', PURPLE = '#800080', DBLUE = '#00008b', DRED = '#8b0000';

panel(0, 0, { log: true, yDomain: [3.04e8, 1.99e10], yTicks: massTicks, minor: massMinorTicks, xLabels: true,
  series: [{data: gasMass, color: BLACK}, {data: denseMass, color: BLUE}, {data: starMass, color: RED}],
  ylabelX: 24, ylabel: [{t: 'Mass (M'}, {t: '\u2299', sub: true}, {t: ' )'}],
  legend: {loc: 'lower right', items: [{label: 'Gas', color: BLACK}, {label: 'Dense Gas', color: BLUE}, {label: 'Stars', color: RED}]} });

panel(1, 0, { yDomain: [0, 25], yTicks: rTicks, xLabels: true,
  series: [{data: gasR, color: BLACK}, {data: denseR, color: BLUE}, {data: starR, color: RED}],
  ylabelX: 572, ylabel: [{t: 'r', it: true}, {t: '1/2', sub: true}, {t: ' (kpc)'}] });

panel(0, 1, { yDomain: [0, 130], yTicks: vTicks, xLabels: false,
  series: [{data: gasV, color: BLACK}, {data: denseV, color: BLUE}, {data: starV, color: RED}],
  ylabelX: 26, ylabel: [{t: 'v', it: true}, {t: '\u03d5', sub: true, it: true}, {t: '(km s'}, {t: '\u22121', sup: true}, {t: ')'}] });

panel(1, 1, { yDomain: [0, 130], yTicks: vTicks, xLabels: false,
  series: [{data: gasSig, color: BLACK}, {data: denseSig, color: BLUE}, {data: starSig, color: RED}],
  ylabelX: 563, ylabel: [{t: '\u03c3', it: true}, {t: 'r', sub: true, it: true}, {t: '(km s'}, {t: '\u22121', sup: true}, {t: ')'}] });

const mdotLabel = [{t: '\u1e40', it: true}, {t: ' ('}, {t: 'M', it: true}, {t: '\u2299', sub: true}, {t: ' yr'}, {t: '\u22121', sup: true}, {t: ')'}];

panel(0, 2, { yDomain: [0, 25], yTicks: flowTicks, xLabels: true,
  series: [{data: outflow, color: ORANGE}, {data: inflow, color: PURPLE}],
  ylabelX: 40, ylabel: mdotLabel,
  legend: {loc: 'upper right', items: [{label: 'Outflow', color: ORANGE}, {label: 'Inflow', color: PURPLE}]} });

panel(1, 2, { yDomain: [0, 3], yTicks: sfTicks, xLabels: true, yFormat: d3.format('.1f'),
  series: [{data: spikes(sfPeak, sfTrough), color: DBLUE, alpha: 0.8}, {data: spikes(retPeak, retTrough), color: DRED, alpha: 0.8}],
  ylabelX: 568, ylabel: mdotLabel,
  legend: {loc: 'upper right', items: [{label: 'SF', color: DBLUE, alpha: 0.8}, {label: 'Return', color: DRED, alpha: 0.8}]} });
</script>
</body></html>
